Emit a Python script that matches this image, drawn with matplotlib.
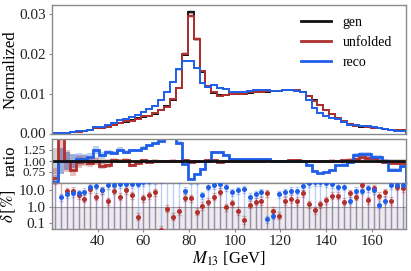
import numpy as np
import matplotlib
matplotlib.use("Agg")
import matplotlib.pyplot as plt

plt.rcParams['font.family'] = ['Liberation Serif', 'DejaVu Serif']
plt.rcParams['mathtext.fontset'] = 'stix'

# ---------------- data ----------------
x_min, x_max, n_bins = 20.0, 175.0, 60

gen = [0.0001, 0.00015, 0.00025, 0.00035, 0.0005, 0.0007, 0.0009, 0.0013, 0.0015, 0.0018,
       0.0022, 0.0027, 0.0030, 0.0034, 0.0038, 0.0042, 0.0045, 0.0050, 0.0058, 0.0068,
       0.0085, 0.0113, 0.0196, 0.0304, 0.0236, 0.0155, 0.0117, 0.0102, 0.0096, 0.0097,
       0.0098, 0.0099, 0.0100, 0.0102, 0.0103, 0.0104, 0.0105, 0.0106, 0.0107, 0.0108,
       0.0108, 0.0107, 0.0104, 0.0094, 0.0083, 0.0072, 0.0060, 0.0049, 0.0039, 0.0030,
       0.0023, 0.0019, 0.0017, 0.0016, 0.0014, 0.0013, 0.0012, 0.0010, 0.0009, 0.0008]

ratio_unf = [0.62, 1.60, 1.00, 0.80, 0.98, 1.02, 0.95, 1.00, 0.88, 0.90,
             1.02, 1.00, 1.03, 0.90, 0.95, 1.02, 0.98, 1.01, 1.00, 0.99,
             1.01, 1.00, 1.02, 0.97, 1.00, 1.01, 1.02, 1.03, 0.97, 0.99,
             1.00, 1.01, 1.00, 1.01, 1.00, 1.01, 1.02, 1.00, 0.99, 1.01,
             1.02, 1.02, 1.00, 1.00, 0.99, 1.00, 1.00, 1.01, 1.00, 1.02,
             1.03, 1.05, 1.10, 1.06, 1.06, 1.00, 0.97, 0.95, 0.95, 0.95]

ratio_reco = [0.52, 1.00, 1.00, 1.00, 1.05, 1.05, 1.10, 1.25, 1.13, 1.20,
              1.18, 1.26, 1.20, 1.24, 1.24, 1.30, 1.36, 1.40, 1.45, 1.52,
              1.52, 1.42, 0.93, 0.60, 0.70, 0.82, 1.00, 1.20, 1.20, 1.14,
              1.05, 1.05, 1.05, 1.05, 1.05, 1.05, 1.05, 1.00, 1.00, 1.00,
              1.00, 1.00, 1.00, 0.90, 0.78, 0.72, 0.75, 0.80, 0.90, 0.92,
              0.97, 1.14, 1.15, 1.15, 1.08, 1.08, 1.00, 0.80, 0.80, 0.88]

unc_gen = [0.30, 0.30, 0.20, 0.15, 0.12, 0.10, 0.08, 0.07, 0.06, 0.05,
           0.04, 0.04, 0.035, 0.03, 0.03, 0.025, 0.025, 0.02, 0.02, 0.02,
           0.02, 0.02, 0.015, 0.015, 0.015, 0.02, 0.02, 0.02, 0.02, 0.02,
           0.02, 0.02, 0.02, 0.02, 0.02, 0.02, 0.02, 0.02, 0.02, 0.02,
           0.02, 0.02, 0.02, 0.02, 0.02, 0.02, 0.025, 0.025, 0.03, 0.03,
           0.035, 0.04, 0.04, 0.045, 0.045, 0.05, 0.05, 0.05, 0.05, 0.05]

unc_unf = [0.35, 0.40, 0.25, 0.18, 0.15, 0.12, 0.10, 0.09, 0.08, 0.06,
           0.05, 0.05, 0.04, 0.04, 0.035, 0.03, 0.03, 0.025, 0.025, 0.025,
           0.025, 0.02, 0.02, 0.02, 0.02, 0.02, 0.02, 0.02, 0.02, 0.02,
           0.02, 0.02, 0.02, 0.02, 0.02, 0.02, 0.02, 0.02, 0.02, 0.02,
           0.02, 0.02, 0.02, 0.02, 0.02, 0.025, 0.025, 0.03, 0.03, 0.035,
           0.04, 0.045, 0.05, 0.05, 0.05, 0.05, 0.05, 0.05, 0.05, 0.05]

delta_unf = [38, 60, 8.5, 9.0, 5.0, 3.0, 11, 4.0, 10, 2.1,
             9.0, 4.0, 10, 5.0, 0.25, 3.3, 5.0, 7.5, 0.04, 0.75,
             0.25, 0.55, 3.5, 3.2, 0.5, 1.1, 2.0, 4.0, 8.0, 0.9,
             1.6, 0.55, 0.16, 1.3, 2.0, 2.2, 6.3, 0.55, 0.28, 2.2,
             2.9, 2.2, 6.3, 1.4, 0.63, 1.4, 2.5, 4.5, 4.5, 2.0,
             6.3, 4.0, 20, 2.5, 12.6, 4.5, 7.3, 2.2, 15.8, 12.6]

delta_reco = [50, 3.6, 5.6, 6.3, 6.3, 7.9, 14.5, 18, 10, 19,
              21, 22, 22, 23, 24, 30, 36, 40, 45, 52,
              52, 42, 9.0, 40, 40, 5.0, 16, 20, 22, 14.5,
              7.0, 10, 11, 4.0, 5.7, 7.3, 0.18, 0.28, 5.5, 7.3,
              9.0, 9.0, 17, 25, 28, 28, 26, 22, 16, 16,
              2.3, 9.0, 9.0, 12.6, 10, 1.3, 2.3, 20, 20, 20]

labels = ['gen', 'unfolded', 'reco']
x_ticks = [40, 60, 80, 100, 120, 140, 160]

# ---------------- derived ----------------
edges = np.linspace(x_min, x_max, n_bins + 1)
centers = 0.5 * (edges[1:] + edges[:-1])
gen = np.array(gen)
r_unf = np.array(ratio_unf)
r_reco = np.array(ratio_reco)
u_gen = np.array(unc_gen)
u_unf = np.array(unc_unf)
unfolded = gen * r_unf
reco = gen * r_reco
d_unf = np.array(delta_unf)
d_reco = np.array(delta_reco)

C_GEN = '#111111'
C_UNF = '#b03030'
C_RECO = '#1f5fe8'
SPINE = '#8a8a8a'

fig = plt.figure(figsize=(4.11, 2.71), dpi=100)
W, H = 411, 271

def ax_at(l, t, r, b):
    return fig.add_axes([l / W, 1 - b / H, (r - l) / W, (b - t) / H])

ax1 = ax_at(52, 5, 406, 133.5)
ax2 = ax_at(52, 139, 406, 183)
ax3 = ax_at(52, 183, 406, 229)

for ax in (ax1, ax2, ax3):
    for s in ax.spines.values():
        s.set_color(SPINE)
        s.set_linewidth(1.0)
    ax.set_xlim(x_min, x_max)
    ax.tick_params(labelsize=11, length=2.5, width=0.8, pad=2)
    ax.tick_params(axis='x', colors=SPINE, labelcolor='#222222')
    ax.tick_params(axis='y', colors=SPINE, labelcolor='#222222')

# main panel
ax1.stairs(gen * (1 + u_gen), edges, baseline=gen * (1 - u_gen), fill=True,
           color='#999999', alpha=0.45, lw=0)
ax1.stairs(unfolded * (1 + u_unf), edges, baseline=unfolded * (1 - u_unf), fill=True,
           color=C_UNF, alpha=0.3, lw=0)
ax1.stairs(reco * (1 + u_gen), edges, baseline=reco * (1 - u_gen), fill=True,
           color=C_RECO, alpha=0.25, lw=0)
ax1.stairs(gen, edges, color=C_GEN, lw=1.4, label=labels[0])
ax1.stairs(unfolded, edges, color=C_UNF, lw=1.4, label=labels[1])
ax1.stairs(reco, edges, color=C_RECO, lw=1.4, label=labels[2])
ax1.set_ylim(0, 0.0322)
ax1.set_yticks([0.0, 0.01, 0.02, 0.03])
ax1.set_yticklabels(['0.00', '0.01', '0.02', '0.03'])
ax1.set_xticks(x_ticks)
ax1.tick_params(axis='x', labelbottom=False, length=0)
ax1.set_ylabel('Normalized', fontsize=12)
leg = ax1.legend(loc='upper right', frameon=False, fontsize=10,
                 handlelength=2.2, handletextpad=0.8, labelspacing=0.5,
                 borderaxespad=0, bbox_to_anchor=(0.976, 0.955))
for h in leg.legend_handles:
    h.set_linewidth(2)

# ratio panel
ax2.stairs(1 + u_gen, edges, baseline=1 - u_gen, fill=True, color='#999999', alpha=0.45, lw=0)
ax2.axhline(1.0, color=C_GEN, lw=2)
ax2.stairs(r_unf * (1 + u_unf), edges, baseline=r_unf * (1 - u_unf), fill=True,
           color=C_UNF, alpha=0.3, lw=0)
ax2.stairs(r_reco * (1 + u_gen), edges, baseline=r_reco * (1 - u_gen), fill=True,
           color=C_RECO, alpha=0.3, lw=0)
ax2.stairs(r_unf, edges, color=C_UNF, lw=2)
ax2.stairs(r_reco, edges, color=C_RECO, lw=2)
ax2.set_ylim(0.5, 1.5)
ax2.set_yticks([0.75, 1.0, 1.25])
ax2.set_yticklabels(['0.75', '1.00', '1.25'])
ax2.tick_params(axis='y', labelsize=9.5)
ax2.set_xticks(x_ticks)
ax2.tick_params(axis='x', labelbottom=False, length=0)
ax2.set_ylabel('ratio', fontsize=12)

# delta panel
ax3.set_yscale('log')
ylo, yhi = 0.045, 26
ax3.set_ylim(ylo, yhi)
ax3.axhspan(ylo, 1.0, color='#ebebeb', lw=0, zorder=0)
ax3.axhline(1.0, color='#a0a0a0', lw=0.8, zorder=1)
ax3.vlines(centers, ylo, d_unf, colors=C_UNF, lw=1.0, alpha=0.4, zorder=2)
ax3.vlines(centers, ylo, d_reco, colors=C_RECO, lw=1.0, alpha=0.3, zorder=2)
ax3.errorbar(centers, d_unf, yerr=[d_unf * 0.4, d_unf * 0.6], fmt='none',
             ecolor=C_UNF, elinewidth=0.6, capsize=1.5, alpha=0.35, zorder=3)
ax3.errorbar(centers, d_reco, yerr=[d_reco * 0.4, d_reco * 0.6], fmt='none',
             ecolor=C_RECO, elinewidth=0.6, capsize=1.5, alpha=0.3, zorder=3)
ax3.scatter(centers, d_unf, s=13, color=C_UNF, zorder=4, lw=0)
ax3.scatter(centers, d_reco, s=13, color=C_RECO, zorder=5, lw=0)
ax3.set_yticks([0.1, 1.0, 10.0])
ax3.set_yticklabels(['0.1', '1.0', '10.0'])
ax3.yaxis.set_minor_locator(matplotlib.ticker.NullLocator())
ax3.set_xticks(x_ticks)
ax3.set_xticklabels([str(v) for v in x_ticks])
ax3.set_ylabel(r'$\delta\,[\%]$', fontsize=12)
ax3.set_xlabel(r'$M_{13}$ [GeV]', fontsize=12, labelpad=1)

for ax in (ax1, ax2, ax3):
    ax.yaxis.set_label_coords(-0.095, 0.5)

fig.savefig('out.png', dpi=100)
